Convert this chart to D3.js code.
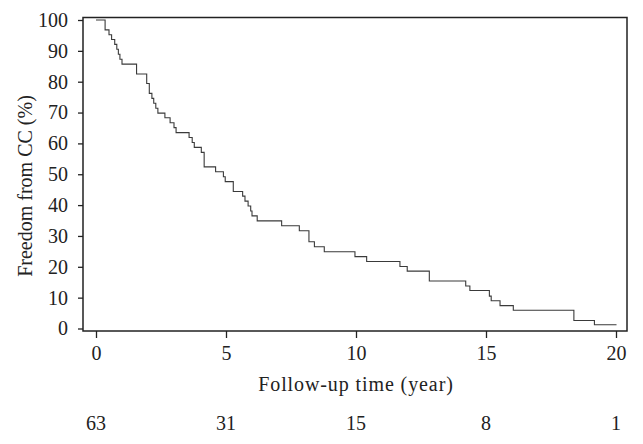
<!DOCTYPE html>
<html><head><meta charset="utf-8">
<script src="https://cdn.jsdelivr.net/npm/d3@7"></script>
<style>body{margin:0;background:#fff}svg{display:block}text{font-family:"Liberation Serif","Times New Roman",serif;fill:#222}</style>
</head><body><svg id="c" width="643" height="444"></svg>
<script>
const times = [0,0.35,0.50,0.60,0.72,0.80,0.86,0.92,1.00,1.56,1.95,2.05,2.15,2.22,2.30,2.38,2.65,2.85,3.00,3.08,3.58,3.70,3.78,4.05,4.16,4.60,4.90,4.97,5.28,5.64,5.73,5.85,5.95,6.00,6.20,7.14,7.82,8.19,8.40,8.78,9.96,10.41,11.69,11.97,12.82,14.22,14.38,15.13,15.20,15.54,16.05,18.38,19.17,20.02];
const survival = [100,96.8,95.2,93.7,92.1,90.5,88.9,87.3,85.7,82.5,79.4,76.2,74.6,73.0,71.4,69.8,68.3,66.7,65.1,63.5,61.9,60.3,58.7,57.1,52.4,50.8,49.2,47.6,44.4,42.9,41.3,39.7,38.1,36.5,34.9,33.3,31.7,28.1,26.5,24.9,23.3,21.7,20.1,18.6,15.4,13.8,12.3,10.5,9.0,7.4,5.9,2.6,1.2,1.2];
const xTicks = [0,5,10,15,20];
const yTicks = [0,10,20,30,40,50,60,70,80,90,100];
const atRisk = [63,31,15,8,1];

const svg = d3.select("#c");
const x = d3.scaleLinear().domain([0,20]).range([96,616]);
const y = d3.scaleLinear().domain([0,100]).range([328.5,20]);
const box = {l:83,r:627,t:17.5,b:331};

const data = times.map((t,i)=>({t, s:survival[i]}));
const line = d3.line().x(d=>x(d.t)).y(d=>y(d.s)).curve(d3.curveStepAfter);
svg.append("path").datum(data).attr("d",line).attr("fill","none").attr("stroke","#3a3a3a").attr("stroke-width",1.1);

svg.append("rect").attr("x",box.l).attr("y",box.t).attr("width",box.r-box.l).attr("height",box.b-box.t)
  .attr("fill","none").attr("stroke","#222").attr("stroke-width",1.5);

const ya = svg.append("g").attr("transform",`translate(${box.l},0)`)
  .call(d3.axisLeft(y).tickValues(yTicks).tickSize(5).tickPadding(10));
ya.select(".domain").remove();
ya.selectAll("line").attr("stroke","#222").attr("stroke-width",1.3);
ya.selectAll("text").attr("font-size",20).attr("fill","#222").style("font-family",'"Liberation Serif",serif');

const xa = svg.append("g").attr("transform",`translate(0,${box.b})`)
  .call(d3.axisBottom(x).tickValues(xTicks).tickSize(7).tickPadding(8));
xa.select(".domain").remove();
xa.selectAll("line").attr("stroke","#222").attr("stroke-width",1.3);
xa.selectAll("text").attr("font-size",20).attr("fill","#222").style("font-family",'"Liberation Serif",serif');

svg.append("text").attr("x",356).attr("y",391).attr("text-anchor","middle").attr("font-size",20).attr("letter-spacing",0.9).text("Follow-up time (year)");
svg.append("text").attr("transform","translate(32,186) rotate(-90)").attr("text-anchor","middle").attr("font-size",20).text("Freedom from CC (%)");

svg.selectAll("text.risk").data(atRisk).enter().append("text").attr("class","risk")
  .attr("x",(d,i)=>x(xTicks[i])).attr("y",430).attr("text-anchor","middle").attr("font-size",20).text(d=>d);
</script></body></html>
